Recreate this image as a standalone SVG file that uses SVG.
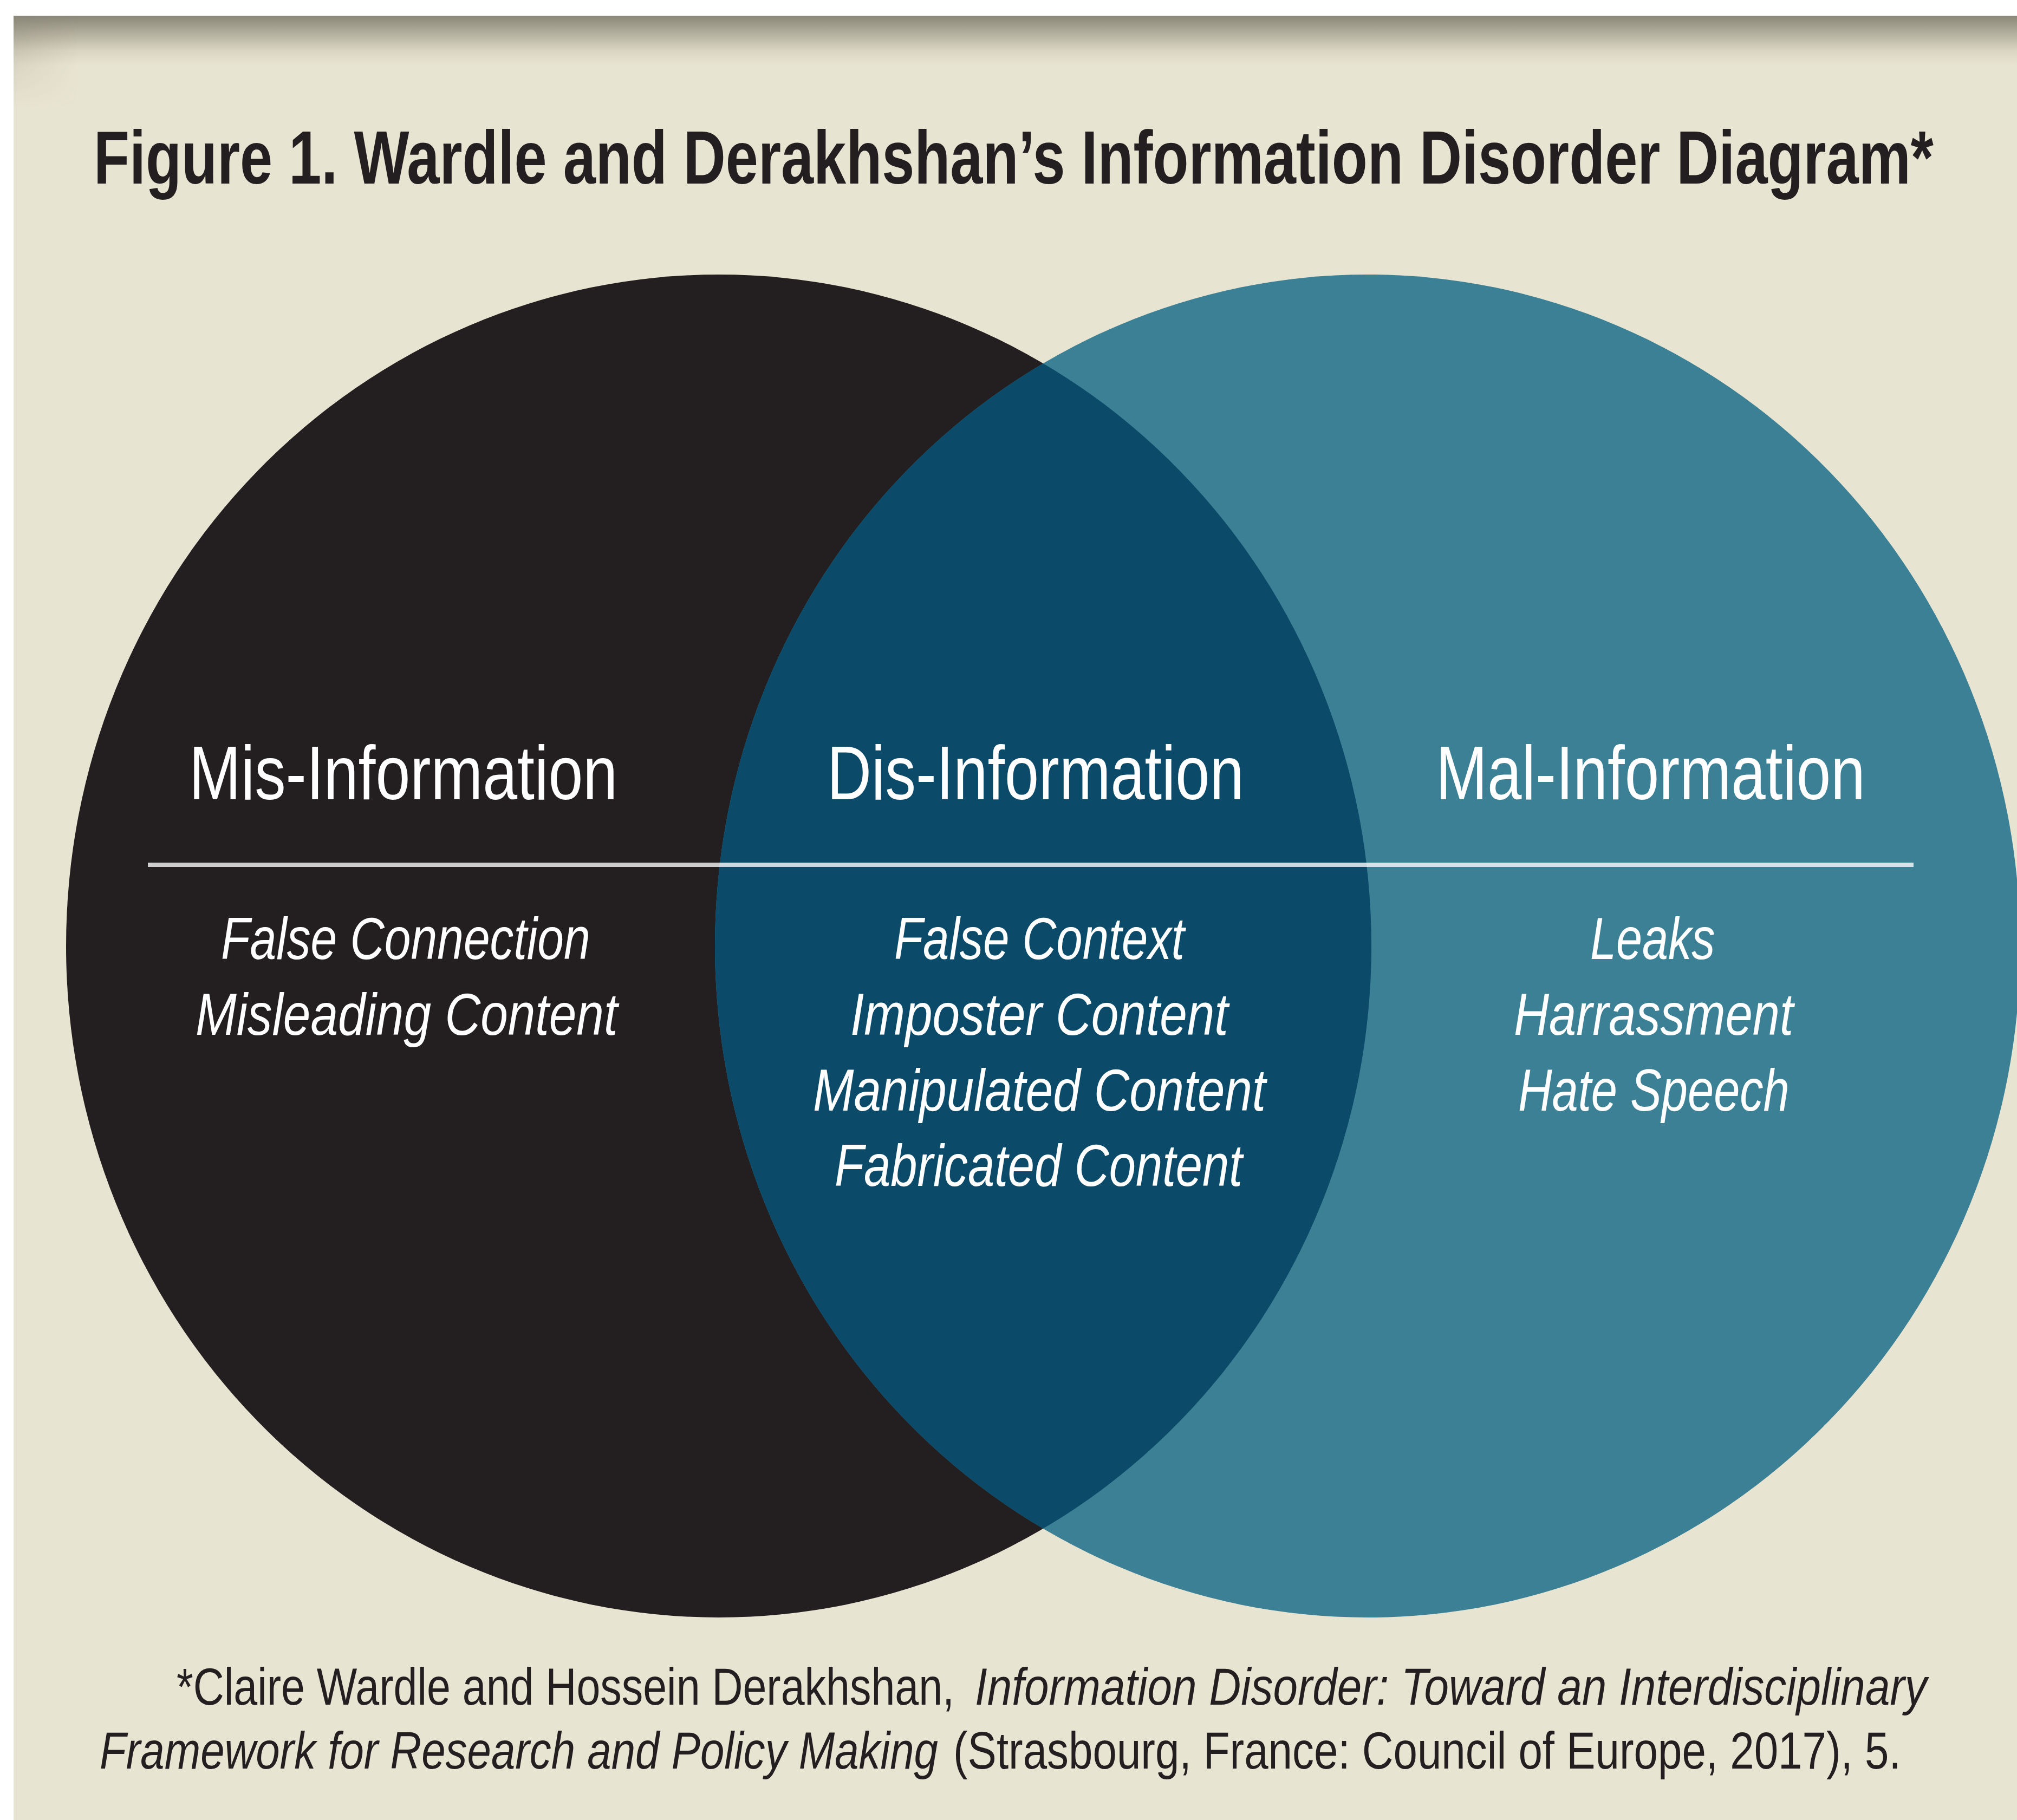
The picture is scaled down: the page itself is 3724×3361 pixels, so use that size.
<svg xmlns="http://www.w3.org/2000/svg" width="3724" height="3361" viewBox="0 0 3724 3361">
  <defs>
    <style>
      .title { font-family: "Liberation Sans", Arial, sans-serif; font-weight: bold; font-size: 140px; fill: #231F20; }
      .head  { font-family: "Liberation Sans", Arial, sans-serif; font-size: 141px; fill: #FFFFFF; }
      .item  { font-family: "Liberation Sans", Arial, sans-serif; font-style: italic; font-size: 109px; fill: #FFFFFF; }
      .note  { font-family: "Liberation Sans", Arial, sans-serif; font-size: 96px; fill: #231F20; }
      .note-i { font-style: italic; }
    </style>
    <linearGradient id="topShade" x1="0" y1="0" x2="0" y2="1">
      <stop offset="0" stop-color="#8A8778"/>
      <stop offset="0.35" stop-color="#B3AF9E"/>
      <stop offset="0.7" stop-color="#D9D5C2"/>
      <stop offset="1" stop-color="#E8E4D2"/>
    </linearGradient>
    <linearGradient id="leftShade" x1="0" y1="0" x2="1" y2="0">
      <stop offset="0" stop-color="#8A8778" stop-opacity="0.35"/>
      <stop offset="1" stop-color="#8A8778" stop-opacity="0"/>
    </linearGradient>
    <linearGradient id="leftFade" x1="0" y1="0" x2="0" y2="1">
      <stop offset="0" stop-color="#FFFFFF" stop-opacity="1"/>
      <stop offset="1" stop-color="#FFFFFF" stop-opacity="0"/>
    </linearGradient>
    <mask id="leftMask">
      <rect x="25" y="29" width="120" height="170" fill="url(#leftFade)"/>
    </mask>
    <clipPath id="leftClip">
      <ellipse cx="1327" cy="1747" rx="1205" ry="1240"/>
    </clipPath>
  </defs>

  <!-- page and panel -->
  <rect x="0" y="0" width="3724" height="3361" fill="#FFFFFF"/>
  <rect x="25" y="29" width="3699" height="3332" fill="#E8E4D2"/>
  <rect x="25" y="29" width="3699" height="92" fill="url(#topShade)"/>
  <rect x="25" y="29" width="120" height="170" fill="url(#leftShade)" mask="url(#leftMask)"/>

  <!-- condensed type: every text is drawn at 80% horizontal scale -->
  <text class="title" transform="translate(173,339) scale(0.8,1)" textLength="4246" lengthAdjust="spacingAndGlyphs">Figure 1. Wardle and Derakhshan’s Information Disorder Diagram*</text>

  <g id="mis-information">
    <ellipse cx="1327" cy="1747" rx="1205" ry="1240" fill="#231F20"/>
    <text class="head" transform="translate(349,1476) scale(0.8,1)" textLength="989" lengthAdjust="spacingAndGlyphs">Mis-Information</text>
    <text class="item" transform="translate(408,1771) scale(0.8,1)" textLength="852" lengthAdjust="spacingAndGlyphs">False Connection</text>
    <text class="item" transform="translate(361,1911) scale(0.8,1)" textLength="974" lengthAdjust="spacingAndGlyphs">Misleading Content</text>
  </g>

  <g id="mal-information">
    <ellipse cx="2525" cy="1747" rx="1205" ry="1240" fill="#3C8096"/>
    <text class="head" transform="translate(2651,1476) scale(0.8,1)" textLength="991" lengthAdjust="spacingAndGlyphs">Mal-Information</text>
    <text class="item" transform="translate(2936,1771) scale(0.8,1)" textLength="288" lengthAdjust="spacingAndGlyphs">Leaks</text>
    <text class="item" transform="translate(2795,1911) scale(0.8,1)" textLength="645" lengthAdjust="spacingAndGlyphs">Harrassment</text>
    <text class="item" transform="translate(2803,2051) scale(0.8,1)" textLength="626" lengthAdjust="spacingAndGlyphs">Hate Speech</text>
  </g>

  <g id="dis-information">
    <ellipse cx="2525" cy="1747" rx="1205" ry="1240" fill="#0B4B69" clip-path="url(#leftClip)"/>
    <text class="head" transform="translate(1527,1476) scale(0.8,1)" textLength="962" lengthAdjust="spacingAndGlyphs">Dis-Information</text>
    <text class="item" transform="translate(1651,1771) scale(0.8,1)" textLength="670" lengthAdjust="spacingAndGlyphs">False Context</text>
    <text class="item" transform="translate(1570,1911) scale(0.8,1)" textLength="872" lengthAdjust="spacingAndGlyphs">Imposter Content</text>
    <text class="item" transform="translate(1501,2051) scale(0.8,1)" textLength="1045" lengthAdjust="spacingAndGlyphs">Manipulated Content</text>
    <text class="item" transform="translate(1541,2190) scale(0.8,1)" textLength="941" lengthAdjust="spacingAndGlyphs">Fabricated Content</text>
  </g>

  <!-- rule separating the headings from their content types -->
  <g id="connectors">
    <line x1="273" y1="1597" x2="3533" y2="1597" stroke="#FFFFFF" stroke-opacity="0.78" stroke-width="8"/>
  </g>

  <g id="footnote">
    <text class="note" transform="translate(326,3148) scale(0.8,1)" textLength="1795" lengthAdjust="spacingAndGlyphs">*Claire Wardle and Hossein Derakhshan,</text>
    <text class="note note-i" transform="translate(1800,3148) scale(0.8,1)" textLength="2197" lengthAdjust="spacingAndGlyphs">Information Disorder: Toward an Interdisciplinary</text>
    <text class="note note-i" transform="translate(184,3266) scale(0.8,1)" textLength="1935" lengthAdjust="spacingAndGlyphs">Framework for Research and Policy Making</text>
    <text class="note" transform="translate(1760,3266) scale(0.8,1)" textLength="2187" lengthAdjust="spacingAndGlyphs">(Strasbourg, France: Council of Europe, 2017), 5.</text>
  </g>
</svg>
